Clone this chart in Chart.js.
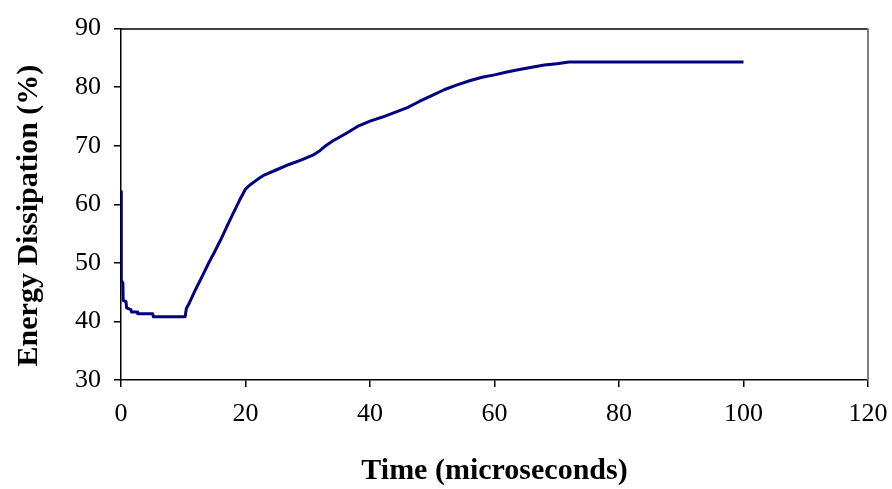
<!DOCTYPE html>
<html>
<head>
<meta charset="utf-8">
<script src="https://cdn.jsdelivr.net/npm/chart.js@4/dist/chart.umd.min.js"></script>
<style>
  body { margin: 0; background: #fff; }
  #wrap { width: 892px; height: 489px; }
</style>
</head>
<body>
<div id="wrap"><canvas id="chart" width="892" height="489"></canvas></div>
<script>
// energy dissipation vs time

// time values (microseconds)
const timeValues = [
    0, 0.05, 0.3, 0.35, 0.8, 0.9, 1.6, 1.7, 2.6, 2.7,
    5.1, 5.2, 10.3, 10.5, 11, 12, 13, 14, 15, 16,
    17, 18, 19, 20, 20.7, 22, 23, 25, 27, 29,
    31, 32, 33, 34, 36, 38, 40, 42, 44, 46,
    48, 50, 52, 54, 56, 58, 60, 62, 64, 66,
    68, 70, 72, 100
];

// energy dissipation (%)
const energyValues = [
    62.2, 47, 46.6, 43.6, 43.4, 42.3, 42, 41.6, 41.6, 41.3,
    41.3, 40.8, 40.8, 42.2, 43.2, 45.5, 47.6, 49.8, 51.8, 53.9,
    56.2, 58.4, 60.6, 62.6, 63.3, 64.3, 65, 65.9, 66.8, 67.6,
    68.5, 69.2, 70.1, 70.8, 72, 73.3, 74.2, 74.9, 75.7, 76.5,
    77.6, 78.6, 79.6, 80.4, 81.1, 81.7, 82.1, 82.6, 83, 83.4,
    83.8, 84.0, 84.3, 84.3
];

// axis tick settings
const xTicks = [0, 20, 40, 60, 80, 100, 120];
const yTicks = [30, 40, 50, 60, 70, 80, 90];

const LINE_NAVY = '#000080';
const FONT = '"Liberation Serif", "Times New Roman", serif';

// build the point list for chart.js
const points = [];
for (let i = 0; i < timeValues.length; i++) {
    points.push({ x: timeValues[i], y: energyValues[i] });
}

// black top edge and grey right edge of the plot box
const frameBox = {
    id: 'frameBox',
    afterDraw(chart) {
        const a = chart.chartArea;
        const ctx = chart.ctx;
        ctx.save();
        ctx.lineWidth = 1.5;
        ctx.strokeStyle = '#000';
        ctx.beginPath();
        ctx.moveTo(a.left, a.top + 0.5);
        ctx.lineTo(a.right, a.top + 0.5);
        ctx.stroke();
        ctx.strokeStyle = '#808080';
        ctx.lineWidth = 2;
        ctx.beginPath();
        ctx.moveTo(a.right, a.top);
        ctx.lineTo(a.right, a.bottom);
        ctx.stroke();
        ctx.restore();
    }
};

new Chart(document.getElementById('chart'), {
    type: 'line',
    data: {
        datasets: [{
            data: points,
            borderColor: LINE_NAVY,
            borderWidth: 3,
            borderJoinStyle: 'round',
            pointRadius: 0,
            tension: 0,
            fill: false
        }]
    },
    options: {
        responsive: false,
        animation: false,
        layout: { padding: { top: 26, right: 24, left: 0, bottom: 0 } },
        plugins: {
            legend: { display: false },
            tooltip: { enabled: false }
        },
        scales: {
            x: {
                type: 'linear',
                min: xTicks[0],
                max: xTicks[xTicks.length - 1],
                afterFit: function(scale) {
                    scale.height = 109;
                    scale.paddingLeft = 0;
                    scale.paddingRight = 0;
                },
                afterBuildTicks: function(scale) {
                    scale.ticks = xTicks.map(function(v) { return { value: v }; });
                },
                border: { display: true, color: '#000', width: 1.5 },
                grid: { drawOnChartArea: false, drawTicks: true, tickLength: 7, color: '#000', lineWidth: 1.5 },
                ticks: { color: '#000', padding: 12, font: { family: FONT, size: 26 } },
                title: {
                    display: true,
                    text: 'Time (microseconds)',
                    color: '#000',
                    padding: { top: 1, bottom: 0 },
                    font: { family: FONT, size: 30, weight: 'bold' }
                }
            },
            y: {
                min: yTicks[0],
                max: yTicks[yTicks.length - 1],
                afterFit: function(scale) { scale.width = 121; },
                afterBuildTicks: function(scale) {
                    scale.ticks = yTicks.map(function(v) { return { value: v }; });
                },
                border: { display: true, color: '#000', width: 1.5 },
                grid: { drawOnChartArea: false, drawTicks: true, tickLength: 7, color: '#000', lineWidth: 1.5 },
                ticks: { color: '#000', padding: 13, font: { family: FONT, size: 26 } },
                title: {
                    display: true,
                    // trailing spaces nudge the rotated title down a bit
                    text: 'Energy Dissipation (%)   ',
                    color: '#000',
                    padding: { top: 11, bottom: 0 },
                    font: { family: FONT, size: 30, weight: 'bold' }
                }
            }
        }
    },
    plugins: [frameBox]
});
</script>
</body>
</html>
